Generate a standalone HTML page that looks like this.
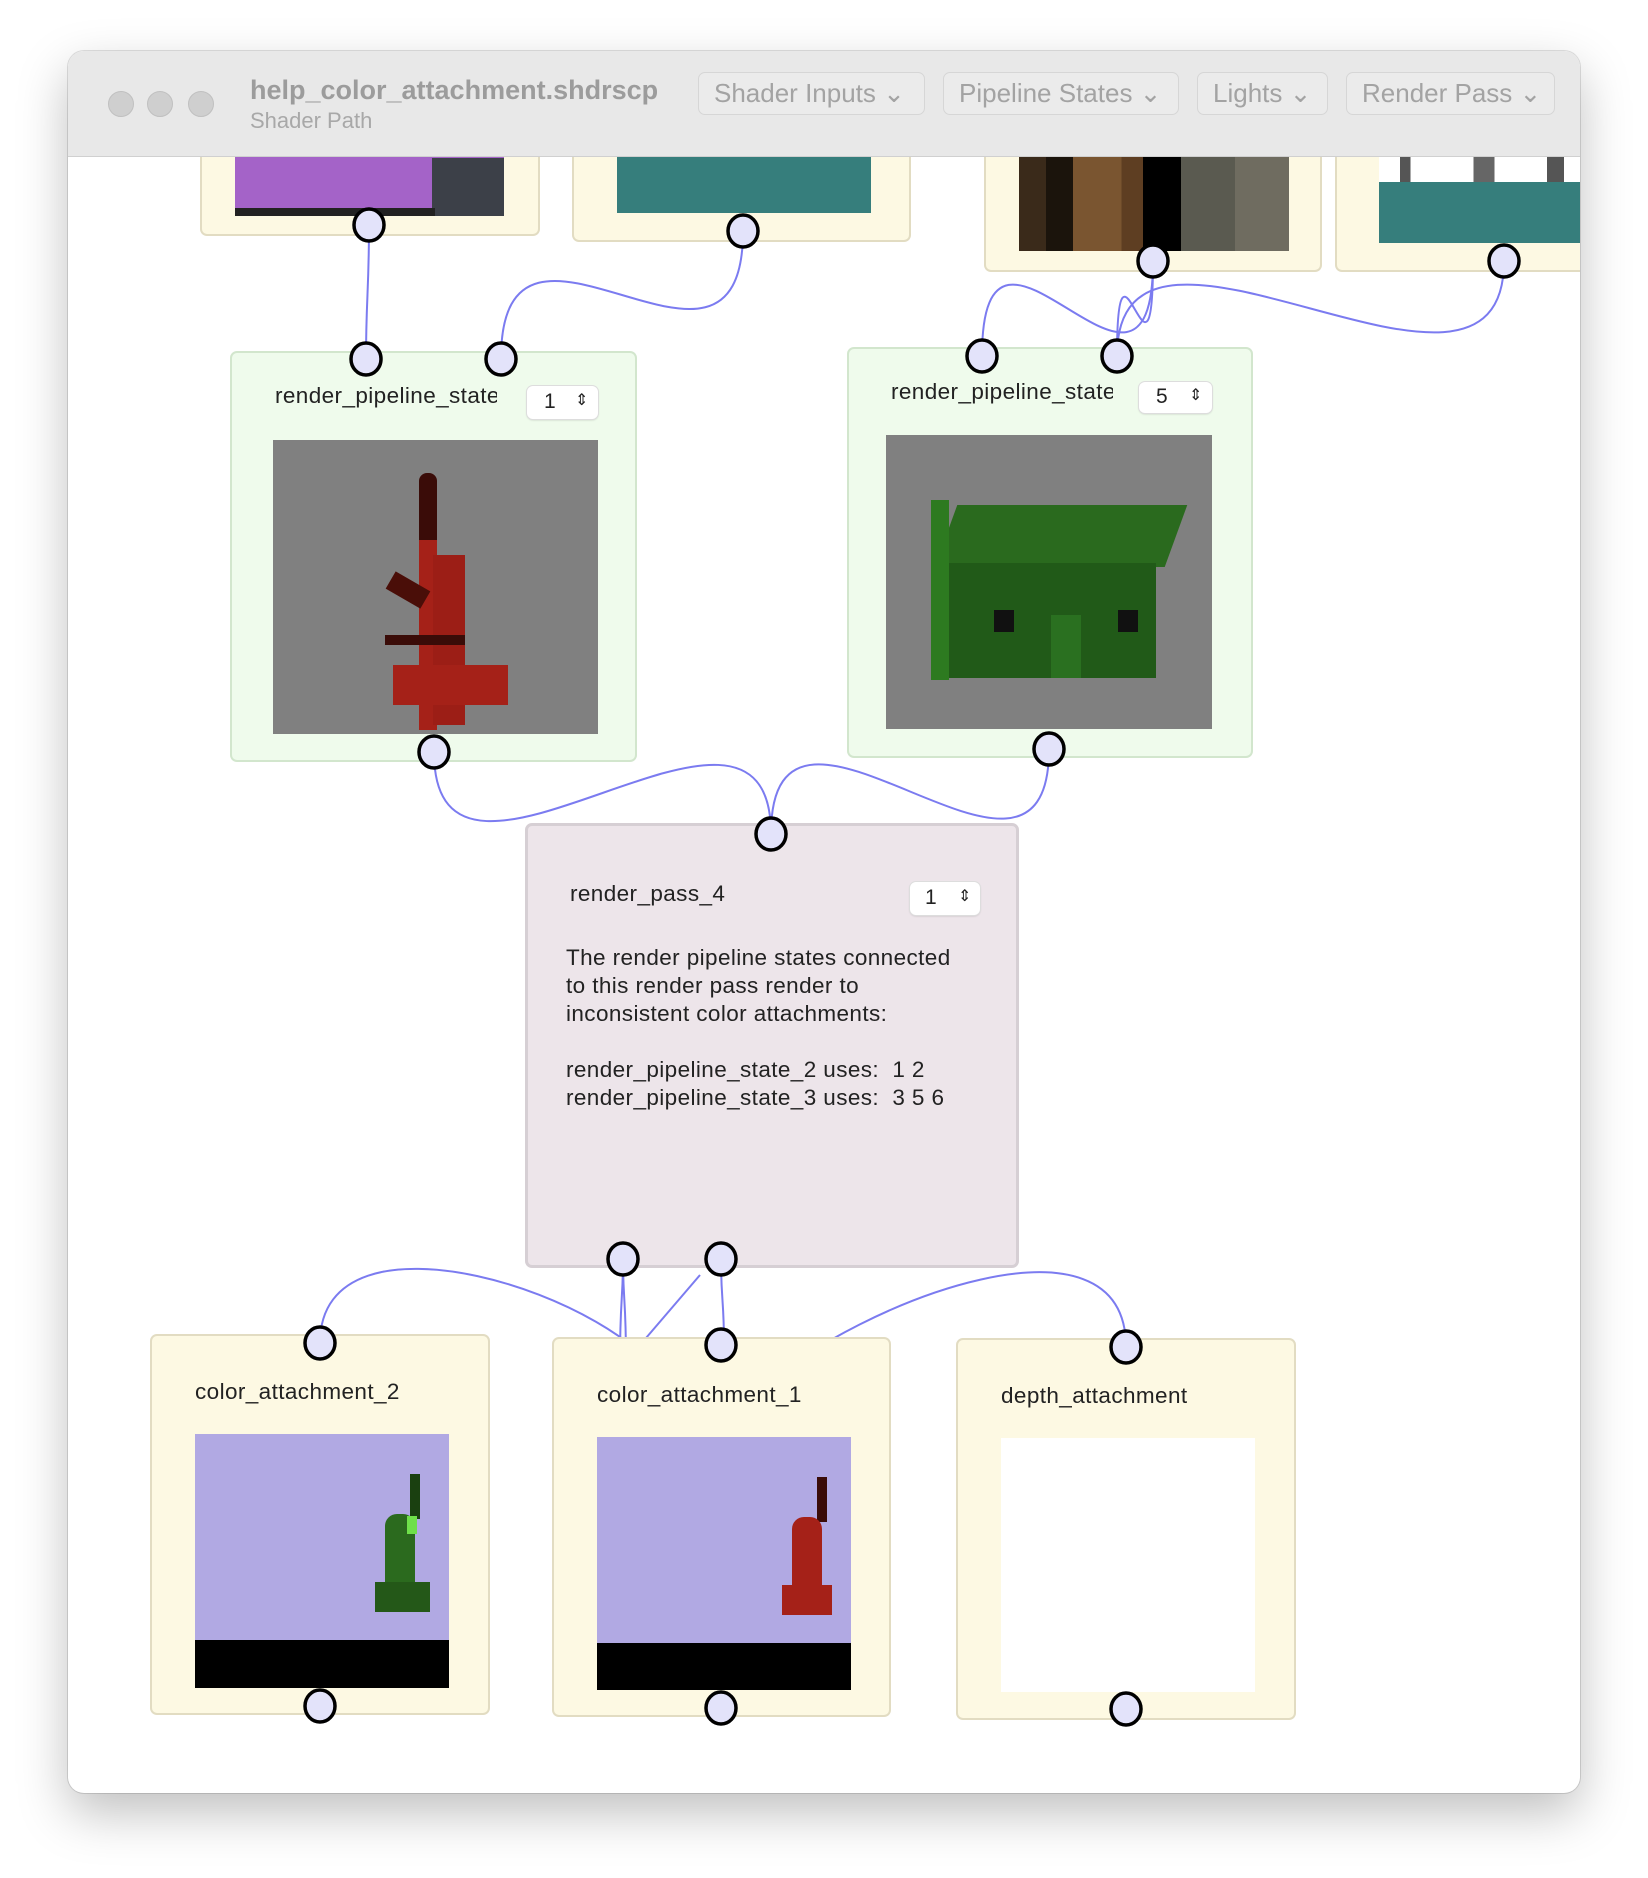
<!DOCTYPE html>
<html><head><meta charset="utf-8"><style>
body{margin:0;width:1648px;height:1878px;background:#fff;position:relative;overflow:hidden;font-family:"Liberation Sans",sans-serif;}
.win{position:absolute;left:68px;top:51px;width:1512px;height:1742px;border-radius:16px;background:#fff;box-shadow:0 20px 50px rgba(0,0,0,.25),0 0 0 1px rgba(0,0,0,.12);overflow:hidden;}
.abs{position:absolute;}
.node{position:absolute;border-radius:7px;box-sizing:border-box;}
.y{background:#fdf9e3;border:2px solid #e2dcc2;}
.g{background:#effbec;border:2px solid #d2e6cd;}
.p{background:#ede5ea;border:3px solid #d6cfd4;}
.t{position:absolute;font-size:22.5px;letter-spacing:0.4px;color:#222;white-space:nowrap;}
.step{position:absolute;background:#fff;border-radius:6px;box-shadow:0 0 0 1px #ddd,0 1px 2px rgba(0,0,0,.2);font-size:21px;color:#222;}
.btn{position:absolute;top:72px;height:43px;border:1px solid #d6d6d6;border-radius:7px;background:#ebebeb;color:#a3a3a3;font-size:26px;line-height:41px;padding-left:15px;box-sizing:border-box;white-space:nowrap;}
</style></head><body>
<div class="win">
</div>
<!-- title bar -->
<div class="abs" style="left:68px;top:51px;width:1512px;height:105px;background:#e8e8e8;border-bottom:1px solid #d0d0d0;border-radius:16px 16px 0 0;z-index:5"></div>
<div style="position:absolute;z-index:6;left:0;top:0">
<div class="abs" style="left:108px;top:91px;width:24px;height:24px;border-radius:50%;background:#cfcfcf;border:1px solid #c0c0c0"></div>
<div class="abs" style="left:147px;top:91px;width:24px;height:24px;border-radius:50%;background:#cfcfcf;border:1px solid #c0c0c0"></div>
<div class="abs" style="left:188px;top:91px;width:24px;height:24px;border-radius:50%;background:#cfcfcf;border:1px solid #c0c0c0"></div>
<div class="abs" style="left:250px;top:75px;font-size:27px;font-weight:bold;color:#9c9c9c;white-space:nowrap">help_color_attachment.shdrscp</div>
<div class="abs" style="left:250px;top:108px;font-size:22px;color:#a8a8a8;white-space:nowrap">Shader Path</div>
<div class="btn" style="left:698px;width:227px">Shader Inputs ⌄</div>
<div class="btn" style="left:943px;width:236px">Pipeline States ⌄</div>
<div class="btn" style="left:1197px;width:131px">Lights ⌄</div>
<div class="btn" style="left:1346px;width:209px">Render Pass ⌄</div>
</div>

<!-- connectors -->
<svg class="abs" style="left:0;top:0;z-index:1" width="1648" height="1878">
<g fill="none" stroke="#7b7bf0" stroke-width="2">
<path d="M369 225 C369 290 366 300 366 359"/>
<path d="M743 231 C743 431 501 159 501 359"/>
<path d="M1153 261 C1153 461 982 156 982 356"/>
<path d="M1153 261 C1153 420 1117 200 1117 356"/>
<path d="M1504 261 C1504 461 1117 156 1117 356"/>
<path d="M434 752 C434 952 771 634 771 834"/>
<path d="M1049 749 C1049 949 771 634 771 834"/>
<path d="M320 1343 C320 1198 623 1294 671 1390"/>
<path d="M1126 1347 C1126 1200 860 1300 760 1390"/>
<path d="M623 1259 C623 1300 620 1300 620 1360"/>
<path d="M623 1259 C623 1300 626 1300 626 1360"/>
<path d="M700 1275 L 640 1345"/>
<path d="M721 1259 C721 1300 724 1300 724 1345"/>
</g>
</svg>

<div style="position:absolute;left:0;top:0;z-index:2">
<!-- top nodes -->
<div class="node y" style="left:200px;top:120px;width:340px;height:116px">
 <div class="abs" style="left:33px;top:0;width:269px;height:94px;background:#a463c8"></div>
 <div class="abs" style="left:230px;top:36px;width:72px;height:58px;background:#3c4048"></div>
 <div class="abs" style="left:33px;top:86px;width:200px;height:8px;background:#222"></div>
</div>
<div class="node y" style="left:572px;top:120px;width:339px;height:122px">
 <div class="abs" style="left:43px;top:0;width:254px;height:91px;background:#367e7c"></div>
</div>
<div class="node y" style="left:984px;top:120px;width:338px;height:152px">
 <div class="abs" style="left:33px;top:0;width:270px;height:129px;background:linear-gradient(90deg,#3a2a1a 0 10%,#1b140c 10% 20%,#7a5530 20% 38%,#5e3e22 38% 46%,#000 46% 60%,#5a5a50 60% 80%,#6f6c60 80% 100%)"></div>
</div>
<div class="abs" style="left:1335px;top:120px;width:245px;height:152px;overflow:hidden">
<div class="node y" style="left:0;top:0;width:300px;height:152px">
 <div class="abs" style="left:42px;top:0;width:210px;height:121px;background:#367e7c"></div>
 <div class="abs" style="left:42px;top:0;width:210px;height:60px;background:linear-gradient(90deg,#fff 0 10%,#555 10% 15%,#fff 15% 45%,#666 45% 55%,#fff 55% 80%,#555 80% 88%,#fff 88%)"></div>
</div>
</div>

<!-- RPS1 -->
<div class="node g" style="left:230px;top:351px;width:407px;height:411px">
 <div class="t" style="left:43px;top:30px;width:222px;overflow:hidden">render_pipeline_state_2</div>
 <div class="step" style="left:295px;top:33px;width:71px;height:33px"><span class="abs" style="left:17px;top:4px">1</span><span class="abs" style="left:48px;top:4px;font-size:16px">⇕</span></div>
 <div class="abs" style="left:41px;top:87px;width:325px;height:294px;background:#808080">
  <div class="abs" style="left:146px;top:33px;width:18px;height:70px;background:#3a0c08;border-radius:8px 8px 0 0"></div>
  <div class="abs" style="left:146px;top:100px;width:18px;height:190px;background:#a52118"></div>
  <div class="abs" style="left:160px;top:115px;width:32px;height:170px;background:#9c1e16"></div>
  <div class="abs" style="left:115px;top:140px;width:40px;height:20px;background:#4a0e08;transform:rotate(30deg)"></div>
  <div class="abs" style="left:112px;top:195px;width:80px;height:10px;background:#3a0c08"></div>
  <div class="abs" style="left:120px;top:225px;width:115px;height:40px;background:#a52118"></div>
 </div>
</div>
<!-- RPS2 -->
<div class="node g" style="left:847px;top:347px;width:406px;height:411px">
 <div class="t" style="left:42px;top:30px;width:222px;overflow:hidden">render_pipeline_state_3</div>
 <div class="step" style="left:290px;top:33px;width:73px;height:31px"><span class="abs" style="left:17px;top:3px">5</span><span class="abs" style="left:50px;top:3px;font-size:16px">⇕</span></div>
 <div class="abs" style="left:37px;top:86px;width:326px;height:294px;background:#808080">
  <div class="abs" style="left:60px;top:70px;width:230px;height:62px;background:#2a6a1e;transform:skewX(-20deg)"></div>
  <div class="abs" style="left:45px;top:128px;width:225px;height:115px;background:#215a18"></div>
  <div class="abs" style="left:45px;top:65px;width:18px;height:180px;background:#2d7a20"></div>
  <div class="abs" style="left:108px;top:175px;width:20px;height:22px;background:#111"></div>
  <div class="abs" style="left:232px;top:175px;width:20px;height:22px;background:#111"></div>
  <div class="abs" style="left:165px;top:180px;width:30px;height:63px;background:#2a7020"></div>
 </div>
</div>

<!-- render pass -->
<div class="node p" style="left:525px;top:823px;width:494px;height:445px">
 <div class="t" style="left:42px;top:55px">render_pass_4</div>
 <div class="step" style="left:382px;top:56px;width:70px;height:33px"><span class="abs" style="left:15px;top:4px">1</span><span class="abs" style="left:48px;top:4px;font-size:16px">⇕</span></div>
 <div class="t" style="left:38px;top:118px;line-height:28px">The render pipeline states connected<br>to this render pass render to<br>inconsistent color attachments:<br><br>render_pipeline_state_2 uses:&nbsp; 1 2<br>render_pipeline_state_3 uses:&nbsp; 3 5 6</div>
</div>

<!-- attachments -->
<div class="node y" style="left:150px;top:1334px;width:340px;height:381px">
 <div class="t" style="left:43px;top:43px">color_attachment_2</div>
 <div class="abs" style="left:43px;top:98px;width:254px;height:254px;background:#b1a9e3">
  <div class="abs" style="left:0;top:206px;width:254px;height:48px;background:#000"></div>
  <div class="abs" style="left:215px;top:40px;width:10px;height:45px;background:#1a4010"></div>
  <div class="abs" style="left:190px;top:80px;width:30px;height:90px;background:#2b6a1e;border-radius:12px 12px 0 0"></div>
  <div class="abs" style="left:180px;top:148px;width:55px;height:30px;background:#245818"></div>
  <div class="abs" style="left:212px;top:82px;width:10px;height:18px;background:#6fe04a"></div>
 </div>
</div>
<div class="node y" style="left:552px;top:1337px;width:339px;height:380px">
 <div class="t" style="left:43px;top:43px">color_attachment_1</div>
 <div class="abs" style="left:43px;top:98px;width:254px;height:253px;background:#b1a9e3">
  <div class="abs" style="left:0;top:206px;width:254px;height:47px;background:#000"></div>
  <div class="abs" style="left:220px;top:40px;width:10px;height:45px;background:#3a0c08"></div>
  <div class="abs" style="left:195px;top:80px;width:30px;height:90px;background:#a52118;border-radius:12px 12px 0 0"></div>
  <div class="abs" style="left:185px;top:148px;width:50px;height:30px;background:#a52118"></div>
 </div>
</div>
<div class="node y" style="left:956px;top:1338px;width:340px;height:382px">
 <div class="t" style="left:43px;top:43px">depth_attachment</div>
 <div class="abs" style="left:43px;top:98px;width:254px;height:254px;background:#fff"></div>
</div>
</div>

<!-- ports -->
<svg class="abs" style="left:0;top:0;z-index:3" width="1648" height="1878">
<g fill="#e3e3fa" stroke="#000" stroke-width="3.5">
<ellipse cx="369" cy="225" rx="15" ry="16"/>
<ellipse cx="743" cy="231" rx="15" ry="16"/>
<ellipse cx="1153" cy="261" rx="15" ry="16"/>
<ellipse cx="1504" cy="261" rx="15" ry="16"/>
<ellipse cx="366" cy="359" rx="15" ry="16"/>
<ellipse cx="501" cy="359" rx="15" ry="16"/>
<ellipse cx="434" cy="752" rx="15" ry="16"/>
<ellipse cx="982" cy="356" rx="15" ry="16"/>
<ellipse cx="1117" cy="356" rx="15" ry="16"/>
<ellipse cx="1049" cy="749" rx="15" ry="16"/>
<ellipse cx="771" cy="834" rx="15" ry="16"/>
<ellipse cx="623" cy="1259" rx="15" ry="16"/>
<ellipse cx="721" cy="1259" rx="15" ry="16"/>
<ellipse cx="320" cy="1343" rx="15" ry="16"/>
<ellipse cx="320" cy="1706" rx="15" ry="16"/>
<ellipse cx="721" cy="1345" rx="15" ry="16"/>
<ellipse cx="721" cy="1708" rx="15" ry="16"/>
<ellipse cx="1126" cy="1347" rx="15" ry="16"/>
<ellipse cx="1126" cy="1709" rx="15" ry="16"/>
</g>
</svg>
</body></html>
